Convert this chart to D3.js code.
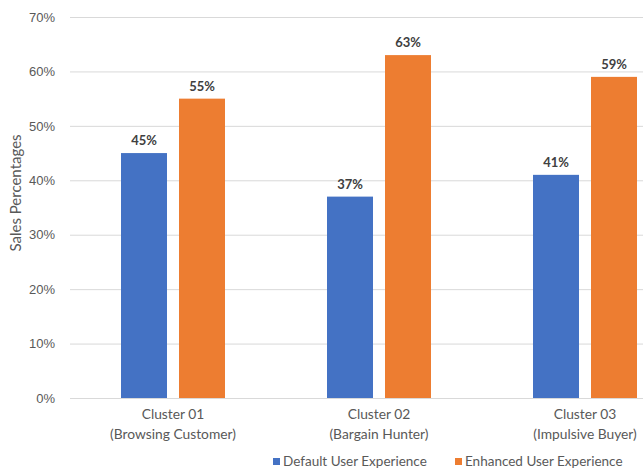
<!DOCTYPE html>
<html>
<head>
<meta charset="utf-8">
<script src="https://cdn.jsdelivr.net/npm/d3@7/dist/d3.min.js"></script>
<style>
  html, body { margin: 0; padding: 0; background: #fff; }
  svg { display: block; font-family: Lato, "Liberation Sans", sans-serif; }
</style>
</head>
<body>
<svg id="chart" width="643" height="472"></svg>
<script>
// Sales share per customer cluster, default vs enhanced experience
const clusterNames = ["Cluster 01", "Cluster 02", "Cluster 03"];
const clusterTypes = ["(Browsing Customer)", "(Bargain Hunter)", "(Impulsive Buyer)"];
const seriesNames = ["Default User Experience", "Enhanced User Experience"];
const defaultValues = [45, 37, 41];
const enhancedValues = [55, 63, 59];
const yTicks = [0, 10, 20, 30, 40, 50, 60, 70];

const colors = ["#4472C4", "#ED7D31"];
const svg = d3.select("#chart");

const plotLeft = 70, plotRight = 688, plotTop = 17, plotBottom = 398;

const x0 = d3.scaleBand().domain(clusterNames).range([plotLeft, plotRight]).paddingInner(102 / 206).paddingOuter(51 / 206);
const x1 = d3.scaleBand().domain(seriesNames).range([0, x0.bandwidth()]).paddingInner(12 / 58).paddingOuter(0);
const y = d3.scaleLinear().domain([0, 70]).range([plotBottom, plotTop]);

// horizontal gridlines + tick labels
const yAxis = d3.axisLeft(y).tickValues(yTicks).tickSize(-(plotRight - plotLeft)).tickFormat(d => d + "%").tickPadding(15);
const gy = svg.append("g").attr("transform", `translate(${plotLeft},0)`).call(yAxis);
gy.select(".domain").remove();
gy.selectAll(".tick line").attr("stroke", "#d9d9d9").attr("stroke-width", 1);
gy.selectAll(".tick text").attr("fill", "#595959").style("font-size", "13px");

// y title
svg.append("text")
  .attr("transform", `translate(21,193) rotate(-90)`)
  .attr("text-anchor", "middle")
  .attr("fill", "#595959")
  .style("font-size", "15px")
  .text("Sales Percentages");

const rows = clusterNames.map((c, i) => ({ cluster: c, type: clusterTypes[i], values: [defaultValues[i], enhancedValues[i]] }));

const groups = svg.append("g").selectAll("g").data(rows).join("g")
  .attr("transform", d => `translate(${x0(d.cluster)},0)`);

groups.selectAll("rect").data(d => d.values.map((v, j) => ({ s: seriesNames[j], v, j }))).join("rect")
  .attr("x", d => x1(d.s))
  .attr("width", x1.bandwidth())
  .attr("y", d => y(d.v))
  .attr("height", d => y(0) - y(d.v))
  .attr("fill", d => colors[d.j]);

groups.selectAll("text.val").data(d => d.values.map((v, j) => ({ s: seriesNames[j], v, j }))).join("text")
  .attr("class", "val")
  .attr("x", d => x1(d.s) + x1.bandwidth() / 2)
  .attr("y", d => y(d.v) - 8)
  .attr("text-anchor", "middle")
  .attr("fill", "#404040")
  .style("font-size", "13px")
  .style("font-weight", "bold")
  .text(d => d.v + "%");

// category labels (two lines)
const cat = svg.append("g").selectAll("text").data(rows).join("text")
  .attr("text-anchor", "middle")
  .attr("fill", "#595959")
  .style("font-size", "13.8px");
cat.append("tspan").attr("x", d => x0(d.cluster) + x0.bandwidth() / 2).attr("y", 419).text(d => d.cluster);
cat.append("tspan").attr("x", d => x0(d.cluster) + x0.bandwidth() / 2).attr("y", 439).text(d => d.type);

// legend
const legendX = [273, 455];
const lg = svg.append("g").selectAll("g").data(seriesNames).join("g")
  .attr("transform", (d, i) => `translate(${legendX[i]},466)`);
lg.append("rect").attr("x", 0).attr("y", -8).attr("width", 7).attr("height", 7).attr("fill", (d, i) => colors[i]);
lg.append("text").attr("x", 10).attr("y", 0).attr("fill", "#595959").style("font-size", "13.5px").text(d => d);
</script>
</body>
</html>
